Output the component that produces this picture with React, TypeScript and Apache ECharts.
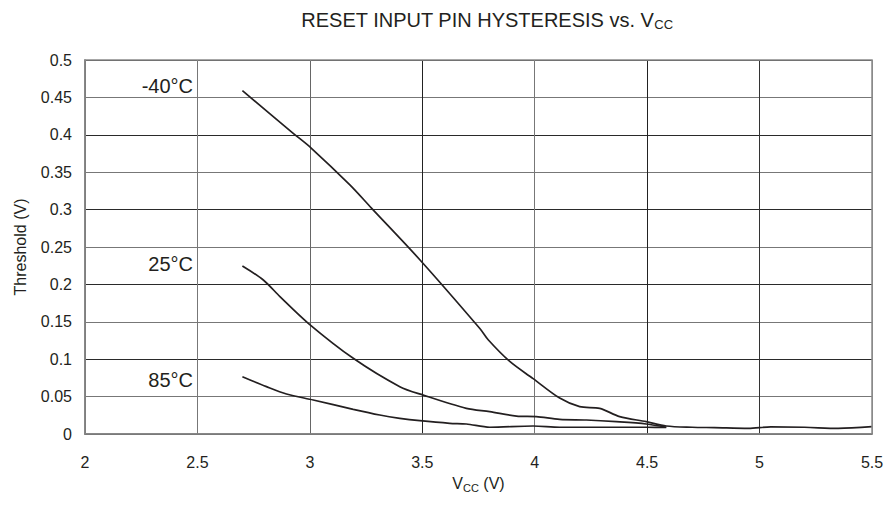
import React, { useEffect, useRef } from "react";
import * as echarts from "echarts";

const vccM40: number[] = [2.7, 2.926, 3.007, 3.178, 3.274, 3.489, 3.756, 3.793, 3.889, 3.993, 4.111, 4.2, 4.289, 4.378, 4.496, 4.585, 4.7, 4.8, 4.95, 5.05, 5.2, 5.35, 5.5];
const thrM40: number[] = [0.459, 0.402, 0.382, 0.333, 0.302, 0.233, 0.141, 0.126, 0.097, 0.074, 0.048, 0.0365, 0.0343, 0.0232, 0.0165, 0.0107, 0.009, 0.0085, 0.0075, 0.0095, 0.009, 0.0075, 0.0098];

const vcc25: number[] = [2.7, 2.793, 2.867, 2.993, 3.193, 3.4, 3.504, 3.696, 3.8, 3.919, 4.007, 4.111, 4.23, 4.363, 4.496, 4.585];
const thr25: number[] = [0.2246, 0.2059, 0.1836, 0.148, 0.1012, 0.0633, 0.052, 0.0343, 0.0299, 0.024, 0.0232, 0.0196, 0.0187, 0.0165, 0.0134, 0.009];

const vcc85: number[] = [2.7, 2.807, 2.896, 3.015, 3.193, 3.311, 3.4, 3.489, 3.622, 3.696, 3.8, 3.993, 4.111, 4.3, 4.496, 4.585];
const thr85: number[] = [0.0766, 0.0633, 0.0535, 0.0455, 0.033, 0.0254, 0.021, 0.0178, 0.0143, 0.0134, 0.009, 0.0107, 0.009, 0.009, 0.009, 0.0088];

const xTicks: number[] = [2, 2.5, 3, 3.5, 4, 4.5, 5, 5.5];
const yTicks: number[] = [0, 0.05, 0.1, 0.15, 0.2, 0.25, 0.3, 0.35, 0.4, 0.45, 0.5];
const curveLabels: string[] = ["-40°C", "25°C", "85°C"];

const FONT = "Liberation Sans, Arial, Helvetica, sans-serif";
const INK = "#231f20";

export default function App() {
  const ref = useRef<HTMLDivElement>(null);
  useEffect(() => {
    if (!ref.current) return;
    const chart = echarts.init(ref.current, undefined, { renderer: "svg" });
    const zip = (xs: number[], ys: number[]) => xs.map((x, i) => [x, ys[i]]);
    const series = [
      zip(vccM40, thrM40),
      zip(vcc25, thr25),
      zip(vcc85, thr85),
    ].map((d) => ({
      type: "line",
      data: d,
      showSymbol: false,
      smooth: 0.3,
      lineStyle: { color: INK, width: 1.7 },
      z: 3,
    }));
    chart.setOption({
      animation: false,
      backgroundColor: "#ffffff",
      textStyle: { fontFamily: FONT },
      title: {
        text: "RESET INPUT PIN HYSTERESIS vs. V{sub|CC}",
        left: 482,
        top: 3,
        textAlign: "center",
        textStyle: {
          fontFamily: FONT,
          fontSize: 20,
          fontWeight: "normal",
          color: INK,
          rich: {
            sub: { fontSize: 13, verticalAlign: "bottom", padding: [10, 0, 0, 0], color: INK, fontFamily: FONT },
          },
        },
      },
      grid: { left: 85, right: 22, top: 60, bottom: 72, containLabel: false },
      xAxis: {
        type: "value",
        min: 2,
        max: 5.5,
        interval: 0.5,
        name: "V{sub|CC} (V)",
        nameLocation: "middle",
        nameGap: 40,
        nameTextStyle: {
          fontFamily: FONT,
          fontSize: 16,
          color: INK,
          rich: { sub: { fontSize: 11, verticalAlign: "bottom", padding: [8, 0, 0, 0], fontFamily: FONT, color: INK } },
        },
        axisLine: { show: true, lineStyle: { color: "#555", width: 1.5 } },
        axisTick: { show: false },
        axisLabel: { fontSize: 16, color: INK, margin: 20, formatter: (v: number) => String(v), fontFamily: FONT },
        splitLine: {
          show: true,
          lineStyle: { color: ["#777", "#777", "#666", "#222", "#777", "#222", "#333", "#888"], width: 1 },
        },
      },
      yAxis: {
        type: "value",
        min: 0,
        max: 0.5,
        interval: 0.05,
        name: "Threshold (V)",
        nameLocation: "middle",
        nameGap: 57,
        nameTextStyle: { fontFamily: FONT, fontSize: 16, color: INK },
        axisLine: { show: true, lineStyle: { color: "#555", width: 1.5 } },
        axisTick: { show: false },
        axisLabel: {
          fontSize: 16,
          color: INK,
          margin: 13,
          fontFamily: FONT,
          formatter: (v: number) => String(parseFloat(v.toFixed(2))),
        },
        splitLine: { show: true, lineStyle: { color: ["#2a2a2a", "#777"], width: 1 } },
      },
      graphic: [
        { type: "rect", shape: { x: 85, y: 60, width: 787, height: 374 }, style: { fill: "none", stroke: "#8a8a8a", lineWidth: 1.5 }, z: 10, silent: true },
        { type: "text", x: 193, y: 86, style: { text: curveLabels[0], font: `20px ${FONT}`, fill: INK, align: "right", verticalAlign: "middle" }, z: 20 },
        { type: "text", x: 193, y: 264, style: { text: curveLabels[1], font: `20px ${FONT}`, fill: INK, align: "right", verticalAlign: "middle" }, z: 20 },
        { type: "text", x: 193, y: 380, style: { text: curveLabels[2], font: `20px ${FONT}`, fill: INK, align: "right", verticalAlign: "middle" }, z: 20 },
      ],
      series,
    });
    return () => chart.dispose();
  }, []);
  return <div ref={ref} style={{ width: 894, height: 506, position: "absolute", left: 0, top: 0 }} />;
}
